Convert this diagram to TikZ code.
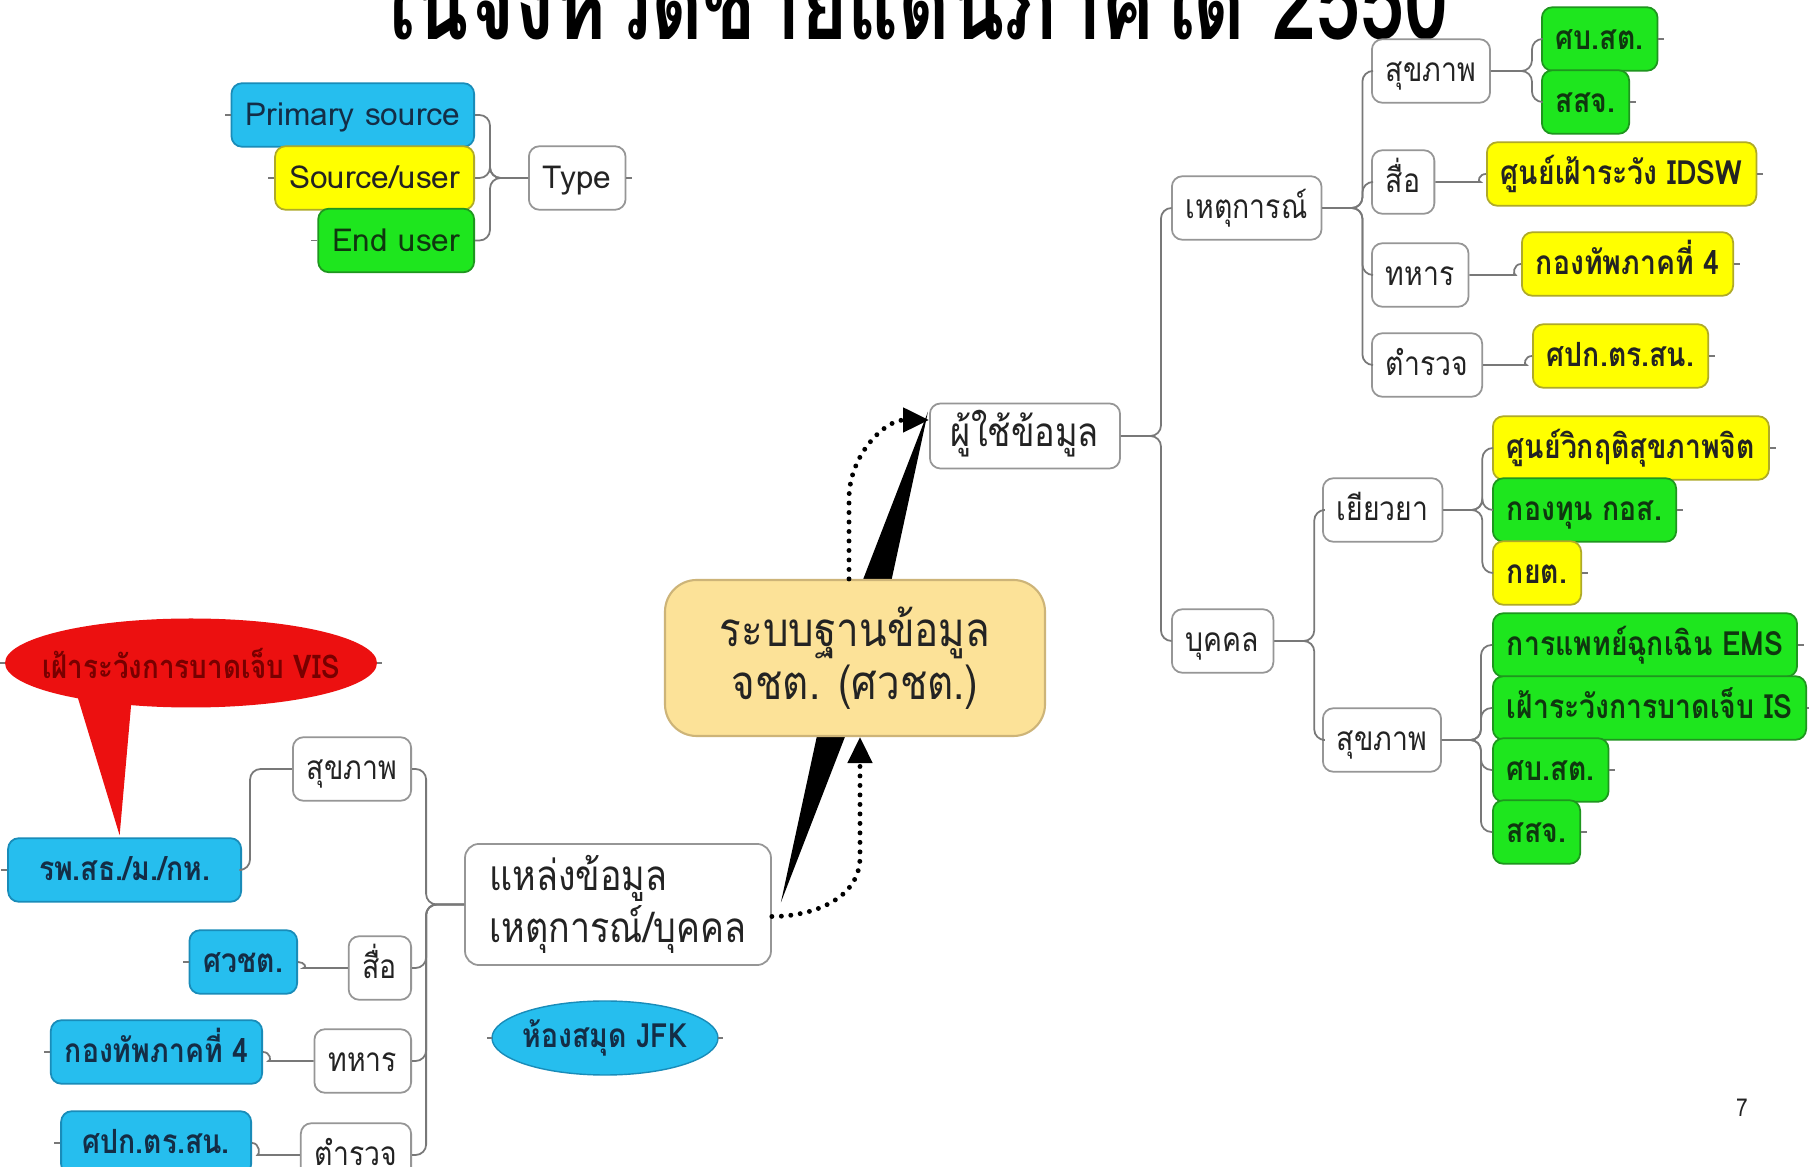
\documentclass[tikz,border=0pt]{standalone}
\usepackage{fontspec}
\setmainfont[Script=Thai, FakeStretch=0.85]{Loma}
\newfontfamily\legfont{Loma}
\usetikzlibrary{arrows.meta,shapes.geometric,calc}

\definecolor{mmcyan}{RGB}{38,190,238}
\definecolor{mmcyanline}{RGB}{25,140,185}
\definecolor{mmyellow}{RGB}{255,255,0}
\definecolor{mmyellowline}{RGB}{175,170,40}
\definecolor{mmgreen}{RGB}{30,230,30}
\definecolor{mmgreenline}{RGB}{30,150,30}
\definecolor{mmred}{RGB}{236,16,16}
\definecolor{hubfill}{RGB}{252,226,152}
\definecolor{hubline}{RGB}{205,180,120}
\definecolor{boxline}{RGB}{150,150,150}
\definecolor{linkgray}{RGB}{120,120,120}
\definecolor{txtdark}{RGB}{35,35,35}
\definecolor{cyantext}{RGB}{20,45,70}
\definecolor{greentext}{RGB}{15,55,15}
\definecolor{redtext}{RGB}{120,0,0}

\newcommand\nodefont{\fontsize{9.5}{11}\selectfont}

\begin{document}
\begin{tikzpicture}[
    box/.style={draw=boxline, fill=white, rounded corners=3pt, line width=0.5pt,
      minimum height=0.53cm, inner xsep=4pt, text height=1.7ex, text depth=0.5ex,
      text=txtdark, font=\nodefont},
    cyanbox/.style={box, fill=mmcyan, draw=mmcyanline, text=cyantext, font=\nodefont\bfseries},
    yellowbox/.style={box, fill=mmyellow, draw=mmyellowline, font=\nodefont\bfseries},
    greenbox/.style={box, fill=mmgreen, draw=mmgreenline, text=greentext, font=\nodefont\bfseries},
    link/.style={draw=linkgray, line width=0.5pt, rounded corners=3pt},
    flow/.style={line width=1.4pt, dash pattern=on 0pt off 2.7pt, line cap=round,
      -{Triangle[length=0.26cm,width=0.24cm]}},
  ]
  \fill[white] (0,0) rectangle (18.09,-11.67);
  \useasboundingbox (0,0) rectangle (18.09,-11.67);

  % Titel (oben abgeschnitten)
  \node[anchor=base west, inner sep=0pt, text depth=0pt] (title) at (3.75,-0.40)
    {\resizebox{10.73cm}{\height}{\fontsize{30}{30}\selectfont\bfseries ในจังหวัดชายแดนภาคใต้ 2550}};

  % Legende
  \node[cyanbox, anchor=east, font=\fontsize{9}{11}\legfont] (prim) at (4.75,-1.15) {Primary source};
  \node[yellowbox, anchor=east, font=\fontsize{9}{11}\legfont] (srcuser) at (4.75,-1.78) {Source/user};
  \node[greenbox, anchor=east, font=\fontsize{9}{11}\legfont] (enduser) at (4.75,-2.405) {End user};
  \node[box, anchor=west, font=\fontsize{9}{11}\legfont] (type) at (5.28,-1.78) {Type};

  % Nutzer
  \node[box, anchor=west, minimum height=0.65cm, inner xsep=6pt, font=\fontsize{11.5}{14}\selectfont] (user) at (9.29,-4.36) {ผู้ใช้ข้อมูล};
  \node[box, anchor=west] (event) at (11.71,-2.08) {เหตุการณ์};
  \node[box, anchor=west] (person) at (11.71,-6.41) {บุคคล};
  \node[box, anchor=west] (evhealth) at (13.71,-0.71) {สุขภาพ};
  \node[box, anchor=west] (evmedia) at (13.71,-1.82) {สื่อ};
  \node[box, anchor=west] (evarmy) at (13.71,-2.75) {ทหาร};
  \node[box, anchor=west] (evpolice) at (13.71,-3.65) {ตำรวจ};
  \node[greenbox, anchor=west] (evhosp) at (15.41,-0.39) {ศบ.สต.};
  \node[greenbox, anchor=west] (evprov) at (15.41,-1.02) {สสจ.};
  \node[yellowbox, anchor=west] (idsw) at (14.86,-1.74) {ศูนย์เฝ้าระวัง IDSW};
  \node[yellowbox, anchor=west] (evarmy4) at (15.21,-2.64) {กองทัพภาคที่ 4};
  \node[yellowbox, anchor=west] (evcmd) at (15.32,-3.56) {ศปก.ตร.สน.};
  \node[box, anchor=west] (remedy) at (13.22,-5.10) {เยียวยา};
  \node[box, anchor=west] (pshealth) at (13.22,-7.40) {สุขภาพ};
  \node[yellowbox, anchor=west] (crisis) at (14.92,-4.48) {ศูนย์วิกฤติสุขภาพจิต};
  \node[greenbox, anchor=west] (fund) at (14.92,-5.10) {กองทุน กอส.};
  \node[yellowbox, anchor=west] (kyt) at (14.92,-5.73) {กยต.};
  \node[greenbox, anchor=west] (ems) at (14.92,-6.45) {การแพทย์ฉุกเฉิน EMS};
  \node[greenbox, anchor=west] (injury) at (14.92,-7.08) {เฝ้าระวังการบาดเจ็บ IS};
  \node[greenbox, anchor=west] (pshosp) at (14.92,-7.70) {ศบ.สต.};
  \node[greenbox, anchor=west] (psprov) at (14.92,-8.32) {สสจ.};

  % Quellen
  \node[draw=boxline, fill=white, rounded corners=4pt, line width=0.5pt, align=left,
    minimum width=3.06cm, minimum height=1.13cm, text=txtdark,
    font=\fontsize{12}{13.5}\selectfont] (src) at (6.18,-9.045) {แหล่งข้อมูล\\เหตุการณ์/บุคคล};
  \node[box, anchor=east] (lhealth) at (4.12,-7.69) {สุขภาพ};
  \node[box, anchor=east] (lmedia) at (4.12,-9.68) {สื่อ};
  \node[box, anchor=east] (larmy) at (4.12,-10.61) {ทหาร};
  \node[box, anchor=east] (lpolice) at (4.12,-11.55) {ตำรวจ};
  \node[cyanbox, anchor=east, minimum width=2.33cm] (hosp) at (2.42,-8.70) {รพ.สธ./ม./กห.};
  \node[cyanbox, anchor=east] (lcenter) at (2.98,-9.62) {ศวชต.};
  \node[cyanbox, anchor=east] (larmy4) at (2.63,-10.52) {กองทัพภาคที่ 4};
  \node[cyanbox, anchor=east, minimum width=1.90cm] (lcmd) at (2.52,-11.43) {ศปก.ตร.สน.};
  \filldraw[fill=mmcyan, draw=mmcyanline, line width=0.4pt] (6.05,-10.38) ellipse [x radius=1.13, y radius=0.37];
  \node[text=cyantext, font=\fontsize{9.5}{11}\selectfont\bfseries] (jfk) at (6.05,-10.38) {ห้องสมุด JFK};

  % Keil hinter der Datenbank
  \coordinate (wbot) at ($(src.east)+(0.09,0.02)$);
  \coordinate (wtop) at ($(user.north west)+(-0.01,-0.09)$);
  \coordinate (wmid) at ($(wbot)!0.5!(wtop)$);
  \fill[black] (wbot) -- ($(wmid)!0.2cm!90:(wtop)$) -- (wtop) -- ($(wmid)!0.2cm!-90:(wtop)$) -- cycle;

  % Datenbank
  \node[draw=hubline, fill=hubfill, rounded corners=9pt, line width=0.6pt, align=center,
    minimum width=3.80cm, minimum height=1.56cm, text=txtdark,
    font=\fontsize{13.5}{15}\selectfont] (hub) at (8.55,-6.58) {ระบบฐานข้อมูล\\จชต. (ศวชต.)};

  \draw[flow] ($(hub.north)+(-0.06,0)$) -- ++(0,0.8) to[out=90,in=180] ($(user.west)+(0,0.16)$);
  \draw[flow] ($(src.east)+(0,-0.12)$) to[out=0,in=-90] ($(hub.south)+(0.05,-1.2)$) -- ($(hub.south)+(0.05,0)$);

  % Sprechblase
  \coordinate (vistip) at ($(hosp.north)+(-0.05,0.02)$);
  \fill[mmred] (0.77,-6.95) -- (vistip) -- (1.32,-6.95) -- cycle;
  \fill[mmred] (1.91,-6.63) ellipse [x radius=1.86, y radius=0.445];
  \node[text=redtext, font=\fontsize{9.3}{11}\selectfont\bfseries] (vis) at (1.91,-6.63) {เฝ้าระวังการบาดเจ็บ VIS};

  % Verbindungen
  \foreach \c in {prim,srcuser,enduser}
    \draw[link] (type.west) -- ++(-0.38,0) |- (\c.east);
  \foreach \c in {event,person}
    \draw[link] (user.east) -- ++(0.40,0) |- (\c.west);
  \foreach \c in {evhealth,evmedia,evarmy,evpolice}
    \draw[link] (event.east) -- ++(0.40,0) |- (\c.west);
  \foreach \c in {evhosp,evprov}
    \draw[link] (evhealth.east) -- ++(0.41,0) |- (\c.west);
  \foreach \a/\b in {evmedia/idsw,evarmy/evarmy4,evpolice/evcmd}
    \draw[link] (\a.east) -- ($(\a.east -| \b.west)+(-0.16,0)$) to[out=0,in=180] (\b.west);
  \foreach \c in {remedy,pshealth}
    \draw[link] (person.east) -- ++(0.40,0) |- (\c.west);
  \foreach \c in {crisis,fund,kyt}
    \draw[link] (remedy.east) -- ++(0.39,0) |- (\c.west);
  \foreach \c in {ems,injury,pshosp,psprov}
    \draw[link] (pshealth.east) -- ++(0.39,0) |- (\c.west);
  \foreach \c in {lhealth,lmedia,larmy,lpolice}
    \draw[link] (src.west) -- ++(-0.38,0) |- (\c.east);
  \draw[link] (lhealth.west) -- ++(-0.42,0) |- (hosp.east);
  \foreach \a/\b in {lmedia/lcenter,larmy/larmy4,lpolice/lcmd}
    \draw[link] (\a.west) -- ($(\a.west -| \b.east)+(0.16,0)$) to[out=180,in=0] (\b.east);

  % kleine Enden
  \foreach \n in {type,evhosp,evprov,idsw,evarmy4,evcmd,crisis,fund,kyt,ems,injury,pshosp,psprov}
    \draw[link] (\n.east) -- ++(0.06,0);
  \foreach \n in {prim,srcuser,enduser,hosp,lcenter,larmy4,lcmd}
    \draw[link] (\n.west) -- ++(-0.06,0);
  \draw[link] ($(vis)+(-1.86,0)$) -- ++(-0.05,0) ($(vis)+(1.86,0)$) -- ++(0.05,0);
  \draw[link] ($(jfk)+(-1.13,0)$) -- ++(-0.05,0) ($(jfk)+(1.13,0)$) -- ++(0.05,0);

  \node[text=txtdark, font=\fontsize{7}{8}\selectfont] (page) at (17.42,-11.08) {7};
\end{tikzpicture}
\end{document}
